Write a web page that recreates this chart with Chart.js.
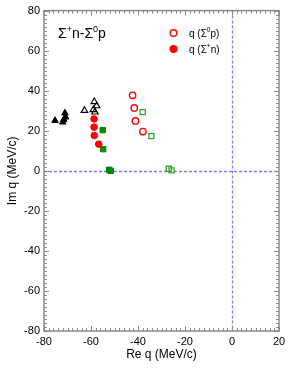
<!DOCTYPE html>
<html><head><meta charset="utf-8">
<script src="https://cdn.jsdelivr.net/npm/chart.js@4"></script>
<style>html,body{margin:0;padding:0;background:#fff}canvas{display:block}</style>
</head><body>
<canvas id="c" width="303" height="392" style="width:303px;height:392px"></canvas>
<script>
// ---- data ----
const xTicks = [-80, -60, -40, -20, 0, 20];
const yTicks = [-80, -60, -40, -20, 0, 20, 40, 60, 80];
const sigma0pRe = [-42.3, -41.6, -41.1, -37.9];
const sigma0pIm = [37.7, 31.4, 24.9, 19.6];
const sigmaPnRe = [-58.7, -58.7, -58.6, -56.7];
const sigmaPnIm = [25.9, 21.8, 17.6, 13.3];
const openSqRe = [-38.0, -34.3, -26.9, -25.7];
const openSqIm = [29.3, 17.3, 1.0, 0.2];
const fillSqRe = [-55.0, -54.8, -52.3, -51.6];
const fillSqIm = [20.3, 10.8, 0.5, 0.0];
const openTriRe = [-62.8, -58.6, -57.6, -58.3, -59.0];
const openTriIm = [30.1, 34.5, 32.4, 29.3, 30.5];
const fillTriRe = [-75.3, -71.1, -72.0, -70.8, -71.6];
const fillTriIm = [25.1, 28.8, 24.3, 26.8, 25.6];
const legendLabels = [['q (Σ', '0', 'p)'], ['q (Σ', '+', 'n)']];
const titleParts = ['Σ', '+', 'n-Σ', '0', 'p'];

function pts(xs, ys) { return xs.map((x, i) => ({ x: x, y: ys[i] })); }

const FONT = '"Liberation Sans", Arial, Helvetica, sans-serif';

function drawRich(ctx, parts, x, baseline, size) {
  let cx = x;
  parts.forEach((p, i) => {
    const sup = i % 2 === 1;
    const fs = sup ? size * 0.65 : size;
    ctx.font = fs + 'px ' + FONT;
    const yy = sup ? baseline - size * 0.42 : baseline;
    ctx.fillText(p, cx, yy);
    cx += ctx.measureText(p).width;
  });
}

const decor = {
  id: 'decor',
  beforeDatasetsDraw(chart) {
    const { ctx, chartArea: a, scales: { x, y } } = chart;
    ctx.save();
    ctx.strokeStyle = '#7c7cff';
    ctx.lineWidth = 1.3;
    ctx.setLineDash([3, 2]);
    const x0 = Math.round(x.getPixelForValue(0)) + 0.5;
    const y0 = Math.round(y.getPixelForValue(0)) + 0.5;
    ctx.beginPath();
    ctx.moveTo(x0, a.top); ctx.lineTo(x0, a.bottom);
    ctx.stroke();
    ctx.beginPath();
    ctx.moveTo(a.left, y0); ctx.lineTo(a.right, y0);
    ctx.stroke();
    ctx.restore();
  },
  afterDatasetsDraw(chart) {
    const { ctx, chartArea: a, scales: { x, y } } = chart;
    ctx.save();
    ctx.strokeStyle = '#8a8a8a';
    ctx.lineWidth = 1;
    ctx.beginPath();
    for (let v = x.min; v <= x.max + 1e-6; v += 2) {
      const p = Math.round(x.getPixelForValue(v)) + 0.5;
      const len = (Math.abs(v % 20) < 1e-6) ? 5 : 3;
      ctx.moveTo(p, a.bottom); ctx.lineTo(p, a.bottom - len);
      ctx.moveTo(p, a.top); ctx.lineTo(p, a.top + len);
    }
    for (let v = y.min; v <= y.max + 1e-6; v += 2) {
      const p = Math.round(y.getPixelForValue(v)) + 0.5;
      const len = (Math.abs(v % 20) < 1e-6) ? 5 : 3;
      ctx.moveTo(a.left, p); ctx.lineTo(a.left + len, p);
      ctx.moveTo(a.right, p); ctx.lineTo(a.right - len, p);
    }
    ctx.stroke();
    ctx.lineWidth = 1.5;
    ctx.strokeRect(a.left, a.top, a.right - a.left, a.bottom - a.top);
    ctx.restore();
  },
  afterDraw(chart) {
    const { ctx } = chart;
    ctx.save();
    ctx.fillStyle = '#000';
    ctx.textBaseline = 'alphabetic';
    drawRich(ctx, titleParts, 58, 38, 14);
    const rows = [33, 49];
    rows.forEach((cy, i) => {
      const ds = chart.data.datasets[i];
      ctx.beginPath();
      ctx.arc(173.5, cy, 3.3, 0, Math.PI * 2);
      ctx.lineWidth = 1.4;
      ctx.strokeStyle = ds.borderColor;
      if (i === 1) { ctx.fillStyle = ds.backgroundColor; ctx.fill(); }
      ctx.stroke();
      ctx.fillStyle = '#000';
      drawRich(ctx, legendLabels[i], 189, cy + 3.5, 10);
    });
    ctx.restore();
  }
};

new Chart(document.getElementById('c'), {
  type: 'scatter',
  data: {
    datasets: [
      { label: 'q (Σ0p)', data: pts(sigma0pRe, sigma0pIm), pointStyle: 'circle', pointRadius: 3.2, borderColor: '#ff0000', backgroundColor: 'rgba(255,255,255,0)', borderWidth: 1.4 },
      { label: 'q (Σ+n)', data: pts(sigmaPnRe, sigmaPnIm), pointStyle: 'circle', pointRadius: 3.3, borderColor: '#ff0000', backgroundColor: '#ff0000', borderWidth: 1 },
      { label: 'open sq', data: pts(openSqRe, openSqIm), pointStyle: 'rect', pointRadius: 3.6, borderColor: '#2ea82e', backgroundColor: 'rgba(255,255,255,0)', borderWidth: 1.3 },
      { label: 'fill sq', data: pts(fillSqRe, fillSqIm), pointStyle: 'rect', pointRadius: 3.8, borderColor: '#008a00', backgroundColor: '#008a00', borderWidth: 1 },
      { label: 'open tri', data: pts(openTriRe, openTriIm), pointStyle: 'triangle', pointRadius: 3.8, borderColor: '#000', backgroundColor: 'rgba(255,255,255,0)', borderWidth: 1.1 },
      { label: 'fill tri', data: pts(fillTriRe, fillTriIm), pointStyle: 'triangle', pointRadius: 3.8, borderColor: '#000', backgroundColor: '#000', borderWidth: 1 }
    ]
  },
  options: {
    responsive: false,
    animation: false,
    devicePixelRatio: 1,
    layout: { padding: { left: 0, right: 24, top: 10, bottom: 0 } },
    plugins: { legend: { display: false }, tooltip: { enabled: false } },
    scales: {
      x: {
        type: 'linear', min: -80, max: 20,
        afterBuildTicks: s => { s.ticks = xTicks.map(v => ({ value: v })); },
        afterFit: s => { s.height = 61; },
        grid: { display: false, drawTicks: false },
        border: { display: false },
        ticks: { color: '#000', font: { family: FONT, size: 11 }, padding: 4, maxRotation: 0, autoSkip: false },
        title: { display: true, text: 'Re q (MeV/c)', color: '#000', font: { family: FONT, size: 12 }, padding: { top: 0, bottom: 30 } }
      },
      y: {
        type: 'linear', min: -80, max: 80,
        afterBuildTicks: s => { s.ticks = yTicks.map(v => ({ value: v })); },
        afterFit: s => { s.width = 44; },
        grid: { display: false, drawTicks: false },
        border: { display: false },
        ticks: { color: '#000', font: { family: FONT, size: 11 }, padding: 4, autoSkip: false },
        title: { display: true, text: 'Im q (MeV/c)', color: '#000', font: { family: FONT, size: 12 }, padding: { top: 5, bottom: 0 } }
      }
    }
  },
  plugins: [decor]
});
</script>
</body></html>
